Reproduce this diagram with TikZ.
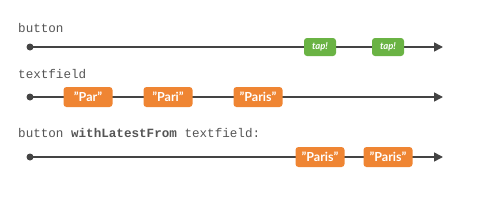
\documentclass[tikz,border=0pt]{standalone}
\usepackage{fontspec}
\setmainfont{Lato}
\setmonofont{Liberation Mono}
\usepackage{tikz}
\usetikzlibrary{positioning, arrows.meta}
\definecolor{linegray}{HTML}{444444}
\definecolor{labelgray}{HTML}{555555}
\definecolor{evorange}{HTML}{EF8533}
\definecolor{evgreen}{HTML}{6AB344}

\begin{document}
\begin{tikzpicture}[
    x=1pt, y=-1pt,
    stream/.style={-{Triangle[length=9pt, width=9pt]}, line width=1.6pt, draw=linegray},
    startdot/.style={circle, fill=linegray, inner sep=0pt, minimum size=7pt},
    streamlabel/.style={anchor=west, font=\ttfamily\fontsize{12.6}{14}\selectfont, text=labelgray, inner sep=0pt},
    strevent/.style={rectangle, rounded corners=3pt, fill=evorange, text=white, minimum height=20pt, minimum width=49pt, inner sep=0pt, font=\bfseries\fontsize{12.5}{14}\selectfont},
    tapevent/.style={rectangle, rounded corners=3pt, fill=evgreen, text=white, minimum height=18pt, minimum width=32pt, inner sep=0pt, font=\bfseries\itshape\fontsize{9.5}{11}\selectfont}
]
\useasboundingbox (0,0) rectangle (485,215);

% button
\node[streamlabel] (lbutton) at (18,28) {button};
\node[startdot] (s1) at (30,47) {};
\coordinate (e1) at (443,47);
\draw[stream] (s1.center) -- (e1);
\node[tapevent] (tap1) at (320,47) {tap!};
\node[tapevent] (tap2) at (388,47) {tap!};

% textfield
\node[streamlabel] (ltext) at (18,74) {textfield};
\node[startdot] (s2) at (30,97) {};
\coordinate (e2) at (443,97);
\draw[stream] (s2.center) -- (e2);
\node[strevent] (par) at (88,97) {"Par"};
\node[strevent] (pari) at (168,97) {"Pari"};
\node[strevent] (paris) at (258,97) {"Paris"};

% combined
\node[streamlabel] (lcomb) at (18,133) {button \textbf{withLatestFrom} textfield:};
\node[startdot] (s3) at (30,157) {};
\coordinate (e3) at (443,157);
\draw[stream] (s3.center) -- (e3);
\node[strevent] (out1) at (320,157) {"Paris"};
\node[strevent] (out2) at (388,157) {"Paris"};

\end{tikzpicture}
\end{document}
